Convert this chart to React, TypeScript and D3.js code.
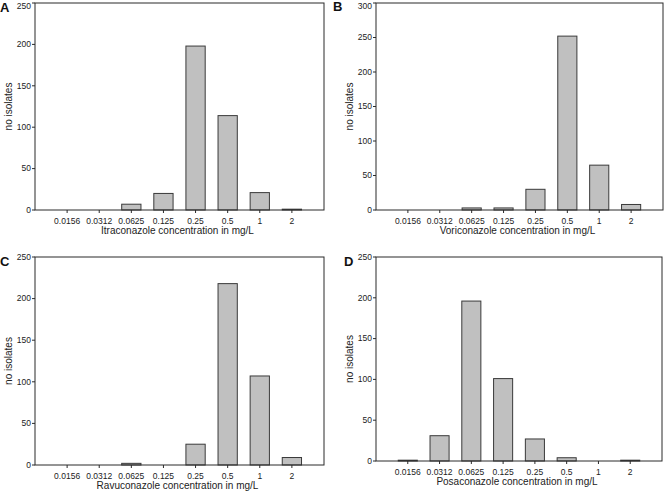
import React from "react";
import * as d3 from "d3";

const concentrations = ["0.0156", "0.0312", "0.0625", "0.125", "0.25", "0.5", "1", "2"];
const itraconazole = [0, 0, 7, 20, 198, 114, 21, 1];
const voriconazole = [0, 0, 3, 3, 30, 252, 65, 8];
const ravuconazole = [0, 0, 2, 0, 25, 218, 107, 9];
const posaconazole = [1, 31, 196, 101, 27, 4, 0, 1];
const yMaxes = [250, 300, 250, 250];
const panelLetters = ["A", "B", "C", "D"];
const xTitles = [
  "Itraconazole concentration in mg/L",
  "Voriconazole concentration in mg/L",
  "Ravuconazole concentration in mg/L",
  "Posaconazole concentration in mg/L",
];
const yTitle = "no isolates";

const FONT = "Arial, 'Liberation Sans', Helvetica, sans-serif";

type Box = { l: number; r: number; t: number; b: number; lx: number; ly: number };
const boxes: Box[] = [
  { l: 35, r: 324, t: 3, b: 210, lx: 0, ly: 12 },
  { l: 376, r: 663, t: 3, b: 210, lx: 333, ly: 11 },
  { l: 35, r: 324, t: 257, b: 465, lx: 0, ly: 266 },
  { l: 376, r: 662, t: 257, b: 461, lx: 344, ly: 266 },
];

function Panel({ values, yMax, box, letter, xTitle }: { values: number[]; yMax: number; box: Box; letter: string; xTitle: string }) {
  const x = d3.scaleLinear().domain([0, concentrations.length + 1]).range([box.l, box.r]);
  const y = d3.scaleLinear().domain([0, yMax]).range([box.b, box.t]);
  const slot = x(1) - x(0);
  const bw = slot * 0.6;
  const yTicks = d3.range(0, yMax + 1, 50);
  const stroke = "#2a2a2a";
  return (
    <g>
      <text x={box.lx} y={box.ly} fontFamily={FONT} fontWeight="bold" fontSize={13} fill="#111">{letter}</text>
      {values.map((v, i) => (
        v > 0 ? (
          <rect key={i} x={x(i + 1) - bw / 2} y={y(v)} width={bw} height={y(0) - y(v)} fill="#c0c0c0" stroke="#3a3a3a" strokeWidth={1} />
        ) : null
      ))}
      <rect x={box.l} y={box.t} width={box.r - box.l} height={box.b - box.t} fill="none" stroke={stroke} strokeWidth={1} />
      {yTicks.map((t) => (
        <g key={t}>
          <line x1={box.l - 3} x2={box.l} y1={y(t)} y2={y(t)} stroke={stroke} />
          <text x={box.l - 4} y={Math.max(y(t), 6)} dy="0.33em" textAnchor="end" fontFamily={FONT} fontSize={8.5} fill="#222">{t}</text>
        </g>
      ))}
      {concentrations.map((c, i) => (
        <g key={c}>
          <line x1={x(i + 1)} x2={x(i + 1)} y1={box.b} y2={box.b + 3} stroke={stroke} />
          <text x={x(i + 1)} y={box.b + 14} textAnchor="middle" fontFamily={FONT} fontSize={8.5} fill="#222">{c}</text>
        </g>
      ))}
      <text x={(box.l + box.r) / 2 - 2} y={box.b + 24} textAnchor="middle" fontFamily={FONT} fontSize={10} fill="#222">{xTitle}</text>
      <text transform={`translate(${box.l - 23},${(box.t + box.b) / 2}) rotate(-90)`} textAnchor="middle" fontFamily={FONT} fontSize={10} fill="#222">{yTitle}</text>
    </g>
  );
}

export default function App() {
  const series = [itraconazole, voriconazole, ravuconazole, posaconazole];
  return (
    <svg width={664} height={494} style={{ position: "absolute", left: 0, top: 0, background: "#fff" }}>
      <rect width={664} height={494} fill="#fff" />
      {series.map((s, i) => (
        <Panel key={i} values={s} yMax={yMaxes[i]} box={boxes[i]} letter={panelLetters[i]} xTitle={xTitles[i]} />
      ))}
    </svg>
  );
}
